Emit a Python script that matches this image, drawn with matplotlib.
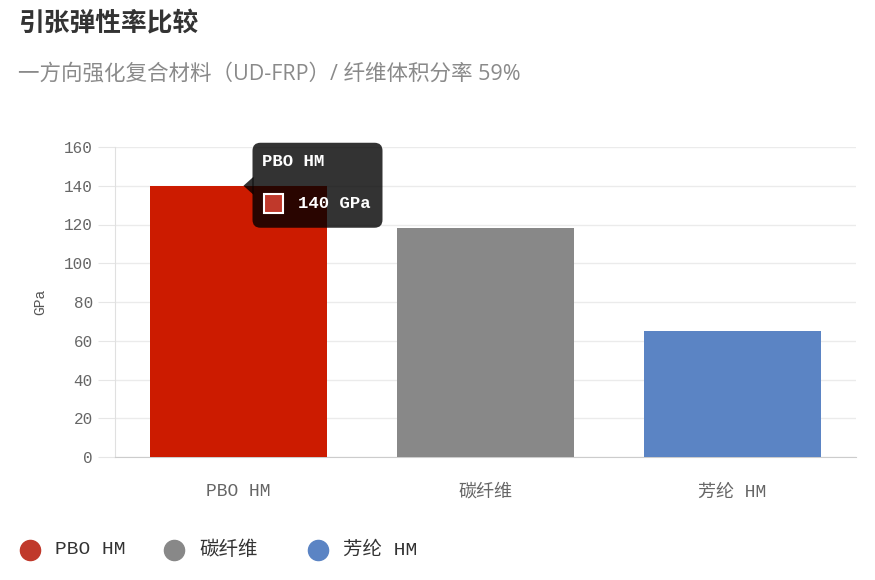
import matplotlib
matplotlib.use("Agg")
import matplotlib.pyplot as plt
from matplotlib.patches import FancyBboxPatch, Rectangle, Polygon
from matplotlib.lines import Line2D
from matplotlib.transforms import IdentityTransform

plt.rcParams['font.family'] = ['Noto Sans CJK SC', 'DejaVu Sans']

# ---- data ----
categories = ["PBO HM", "碳纤维", "芳纶 HM"]
values = [140, 118, 65]
bar_colors = ["#cc1b00", "#888888", "#5b84c4"]
legend_colors = ["#c0392b", "#888888", "#5b84c4"]
yticks = [0, 20, 40, 60, 80, 100, 120, 140, 160]
unit = "GPa"
title = "引张弹性率比较"
subtitle = "一方向强化复合材料（UD-FRP）/ 纤维体积分率 59%"
tooltip_index = 0

W, H = 875, 580
fig = plt.figure(figsize=(W / 100, H / 100), dpi=100)
fig.patch.set_facecolor("white")

mono = ['Liberation Mono', 'Noto Sans CJK SC']

ax = fig.add_axes([115 / W, 1 - 457 / H, (856 - 115) / W, (457 - 147) / H])
x = list(range(len(categories)))
ax.bar(x, values, width=0.717, color=bar_colors, zorder=3)
ax.set_xlim(-0.5, len(categories) - 0.5)
ax.set_ylim(0, 160)
ax.set_yticks(yticks)
ax.set_yticklabels([str(t) for t in yticks], family=mono, fontsize=11.5, color="#666666")
ax.set_xticks(x)
ax.set_xticklabels(categories, family=mono, fontsize=13, color="#666666")
ax.tick_params(axis='y', length=12, color="#e6e6e6", pad=4)
ax.tick_params(axis='x', length=0, pad=19)
ax.grid(axis='y', color="#ebebeb", linewidth=1, zorder=0)
for s in ['top', 'right']:
    ax.spines[s].set_visible(False)
ax.spines['left'].set_color("#e0e0e0")
ax.spines['bottom'].set_color("#cccccc")
ax.set_ylabel(unit, family=mono, fontsize=10.5, color="#555555", labelpad=12)

# title / subtitle
fig.text(18 / W, 1 - 24 / H, title, fontsize=18.5, fontweight='bold', color="#333333",
         va='center', ha='left')
fig.text(18 / W, 1 - 74 / H, subtitle, fontsize=15.5, color="#8a8a8a",
         family=['Open Sans', 'Noto Sans CJK SC'], va='center', ha='left')

# legend
leg_x = [30, 174, 318]
for lx, lab, c in zip(leg_x, categories, legend_colors):
    fig.add_artist(Line2D([lx / W], [1 - 550 / H], marker='o', markersize=14.5,
                          color=c, linestyle='None', transform=fig.transFigure))
    fig.text((lx + 25) / W, 1 - 550 / H, lab, family=mono, fontsize=14,
             color="#333333", va='center', ha='left')

# tooltip anchored at the bar top
fig.canvas.draw()
px, py = ax.transData.transform((x[tooltip_index], values[tooltip_index]))
px += 5
bx0, by0 = px + 9, py - 42
bw, bh = 130, 85
tip = Polygon([[px, py], [bx0 + 1, py + 9], [bx0 + 1, py - 9]], closed=True,
              facecolor=(0, 0, 0, 0.8), edgecolor='none', transform=IdentityTransform())
box = FancyBboxPatch((bx0, by0), bw, bh, boxstyle="round,pad=0,rounding_size=8",
                     facecolor=(0, 0, 0, 0.8), edgecolor='none',
                     transform=IdentityTransform())
fig.add_artist(tip)
fig.add_artist(box)
fig.text(bx0 + 10, by0 + bh - 19, categories[tooltip_index], family=mono,
         fontsize=12.5, fontweight='bold', color="white", va='center', ha='left',
         transform=IdentityTransform())
sw = Rectangle((bx0 + 11, by0 + bh - 70), 19, 19, facecolor=legend_colors[tooltip_index],
               edgecolor='white', linewidth=1.5, transform=IdentityTransform())
fig.add_artist(sw)
fig.text(bx0 + 45, by0 + bh - 61, f"{values[tooltip_index]} {unit}", family=mono,
         fontsize=12.5, fontweight='bold', color="white", va='center', ha='left',
         transform=IdentityTransform())

fig.savefig("out.png", dpi=100)
